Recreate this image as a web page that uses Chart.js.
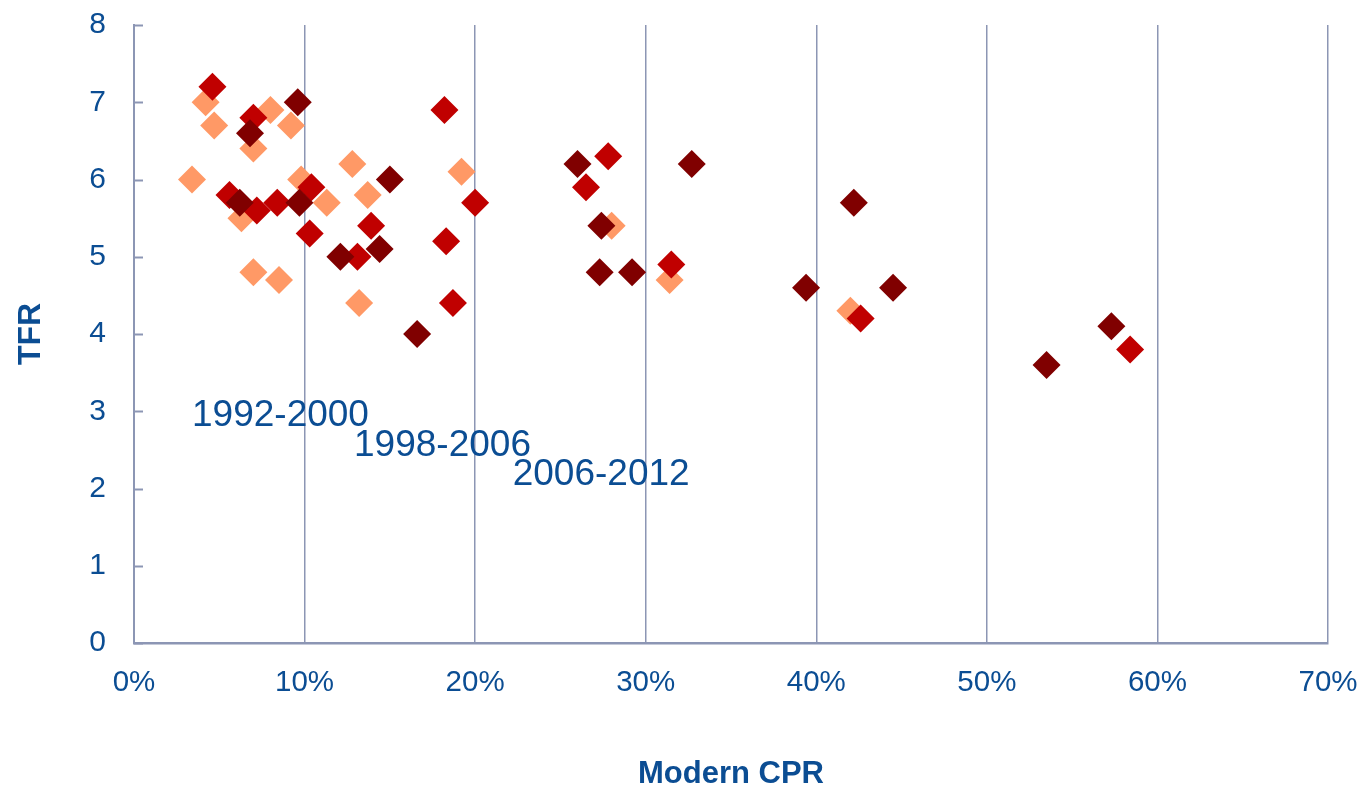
<!DOCTYPE html>
<html>
<head>
<meta charset="utf-8">
<script src="https://cdn.jsdelivr.net/npm/chart.js@4.4.1/dist/chart.umd.min.js"></script>
<style>
  html, body { margin: 0; padding: 0; background: #fff; }
  #wrap { width: 1365px; height: 790px; position: relative; }
</style>
</head>
<body>
<div id="wrap"><canvas id="scatter"></canvas></div>
<script>
// Modern CPR (%) and TFR for each survey period
const cpr1992 = [3.4, 4.2, 4.7, 7.0, 8.0, 9.2, 6.3, 7.0, 8.5, 9.8, 11.3, 12.8, 13.7, 13.2, 19.2, 28.0, 31.4, 42.0];
const tfr1992 = [6.0, 7.0, 6.7, 6.4, 6.9, 6.7, 5.5, 4.8, 4.7, 6.0, 5.7, 6.2, 5.8, 4.4, 6.1, 5.4, 4.7, 4.3];

const cpr1998 = [4.6, 7.0, 5.6, 7.2, 8.4, 10.4, 10.3, 13.9, 13.1, 18.2, 20.0, 18.3, 18.7, 27.8, 26.5, 31.5, 42.6, 58.4];
const tfr1998 = [7.2, 6.8, 5.8, 5.6, 5.7, 5.9, 5.3, 5.4, 5.0, 6.9, 5.7, 5.2, 4.4, 6.3, 5.9, 4.9, 4.2, 3.8];

const cpr2006 = [9.6, 6.8, 6.2, 9.7, 15.0, 12.1, 14.4, 16.6, 26.0, 32.7, 27.4, 27.3, 29.2, 42.2, 39.4, 44.5, 57.3, 53.5];
const tfr2006 = [7.0, 6.6, 5.7, 5.7, 6.0, 5.0, 5.1, 4.0, 6.2, 6.2, 5.4, 4.8, 4.8, 5.7, 4.6, 4.6, 4.1, 3.6];

const periods = ['1992-2000', '1998-2006', '2006-2012'];
const periodColors = ['#FF9966', '#C00000', '#800000'];
// where each period label sits, in data units (left edge, middle)
const labelCpr = [3.4, 12.9, 22.2];
const labelTfr = [2.94, 2.55, 2.18];

const xTicks = [0, 10, 20, 30, 40, 50, 60, 70];
const yTicks = [0, 1, 2, 3, 4, 5, 6, 7, 8];

const textBlue = '#0B4D93';
const axisGrey = '#8C96B4';
const fontFamily = '"Liberation Sans", Arial, sans-serif';

function toPoints(xs, ys) {
  return xs.map((x, i) => ({ x: x, y: ys[i] }));
}

// drop the label overflow padding so layout.padding alone places the plot
function noOverflow(scale) {
  scale.paddingTop = 0;
  scale.paddingBottom = 0;
  scale.paddingLeft = 0;
  scale.paddingRight = 0;
}

const seriesX = [cpr1992, cpr1998, cpr2006];
const seriesY = [tfr1992, tfr1998, tfr2006];

const datasets = periods.map((name, i) => ({
  label: name,
  data: toPoints(seriesX[i], seriesY[i]),
  pointStyle: 'rectRot',
  pointRadius: 14,
  pointHoverRadius: 14,
  backgroundColor: periodColors[i],
  borderColor: periodColors[i],
  borderWidth: 0,
  order: 3 - i // later periods on top
}));

// small inward ticks on the y axis + period labels
const extras = {
  id: 'extras',
  afterDatasetsDraw(chart) {
    const ctx = chart.ctx;
    const xs = chart.scales.x, ys = chart.scales.y;
    ctx.save();
    ctx.strokeStyle = axisGrey;
    ctx.lineWidth = 2;
    yTicks.forEach(v => {
      const py = Math.round(ys.getPixelForValue(v)) + 0.5;
      ctx.beginPath();
      ctx.moveTo(xs.left, py);
      ctx.lineTo(xs.left + 9, py);
      ctx.stroke();
    });
    ctx.fillStyle = textBlue;
    ctx.font = '37px ' + fontFamily;
    ctx.textAlign = 'left';
    ctx.textBaseline = 'middle';
    periods.forEach((name, i) => {
      ctx.fillText(name, xs.getPixelForValue(labelCpr[i]), ys.getPixelForValue(labelTfr[i]));
    });
    ctx.restore();
  }
};

const ctx = document.getElementById('scatter').getContext('2d');
const chart = new Chart(ctx, {
  type: 'scatter',
  data: { datasets: datasets },
  plugins: [extras],
  options: {
    responsive: true,
    maintainAspectRatio: false,
    animation: false,
    layout: { autoPadding: false, padding: { top: 25, right: 37, bottom: 0, left: 0 } },
    plugins: {
      legend: { display: false },
      tooltip: { enabled: false }
    },
    scales: {
      x: {
        type: 'linear',
        min: 0,
        max: 70,
        afterBuildTicks: (scale) => { scale.ticks = xTicks.map(v => ({ value: v })); },
        afterFit: (scale) => { scale.height = 147; noOverflow(scale); },
        ticks: {
          color: textBlue,
          font: { family: fontFamily, size: 29.5 },
          padding: 22,
          maxRotation: 0,
          callback: (v) => v + '%'
        },
        grid: { color: axisGrey, lineWidth: 1.5, drawTicks: false },
        border: { color: axisGrey, width: 2.5 },
        title: {
          display: true,
          text: 'Modern CPR',
          color: textBlue,
          font: { family: fontFamily, size: 31, weight: 'bold', lineHeight: 1 },
          padding: { top: 0, bottom: 0 }
        }
      },
      y: {
        type: 'linear',
        min: 0,
        max: 8,
        afterBuildTicks: (scale) => { scale.ticks = yTicks.map(v => ({ value: v })); },
        afterFit: (scale) => { scale.width = 134; noOverflow(scale); },
        ticks: {
          color: textBlue,
          font: { family: fontFamily, size: 30 },
          padding: 28
        },
        grid: { display: false, drawTicks: false },
        border: { color: axisGrey, width: 2 },
        title: {
          display: true,
          text: 'TFR',
          color: textBlue,
          font: { family: fontFamily, size: 32, weight: 'bold', lineHeight: 1 },
          padding: { top: 15, bottom: 0 }
        }
      }
    }
  }
});
</script>
</body>
</html>
